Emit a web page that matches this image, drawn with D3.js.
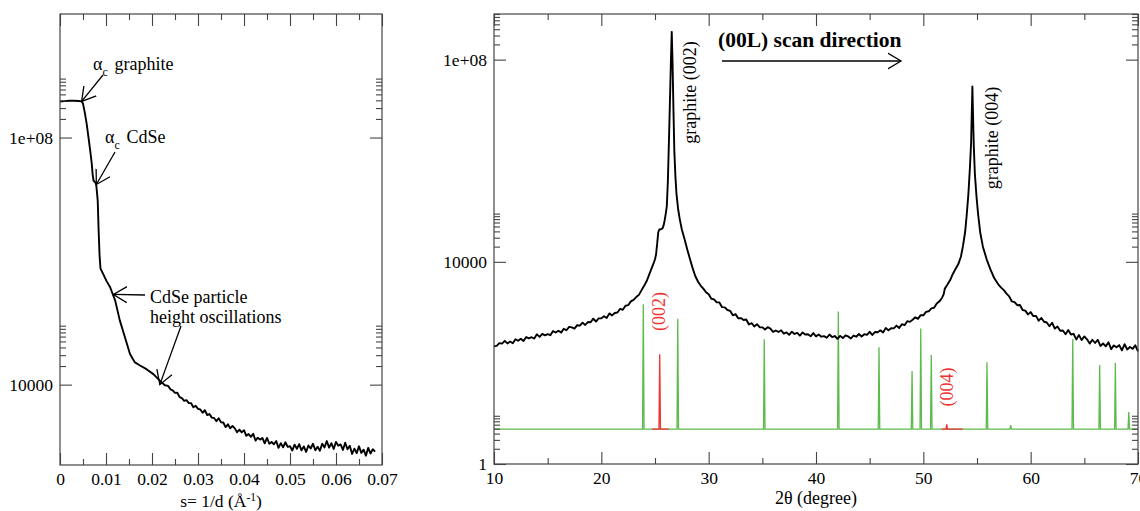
<!DOCTYPE html>
<html>
<head>
<meta charset="utf-8">
<script src="https://cdnjs.cloudflare.com/ajax/libs/d3/7.8.5/d3.min.js"></script>
<style>
  body { margin: 0; background: #fff; }
  svg { display: block; }
</style>
</head>
<body>
<div id="svg-container"></div>
<script>
// ---- data ----

// small-angle scan: [s = 1/d (1/Angstrom), log10 intensity]
var sasCurve = [
  [0.0000, 8.583], [0.0010, 8.590], [0.0020, 8.595], [0.0030, 8.596], [0.0040, 8.592],
  [0.0047, 8.585], [0.0050, 8.55], [0.0054, 8.40], [0.0058, 8.22], [0.0062, 8.00],
  [0.0066, 7.77], [0.0069, 7.58], [0.0071, 7.40], [0.0073, 7.30], [0.0076, 7.28],
  [0.0078, 7.255], [0.0079, 7.22], [0.0082, 6.98], [0.0084, 6.49], [0.0086, 6.09],
  [0.0088, 5.88], [0.0094, 5.79], [0.0101, 5.68], [0.0109, 5.576], [0.0120, 5.36],
  [0.0130, 5.04], [0.0141, 4.77], [0.0152, 4.50], [0.0158, 4.42], [0.0163, 4.36],
  [0.0174, 4.31], [0.0188, 4.25], [0.0203, 4.17], [0.0217, 4.065], [0.0228, 3.99],
  [0.0235, 3.980], [0.0240, 3.924], [0.0245, 3.906], [0.0250, 3.866], [0.0255, 3.868],
  [0.0260, 3.798], [0.0265, 3.782], [0.0270, 3.737], [0.0275, 3.748], [0.0280, 3.702],
  [0.0285, 3.700], [0.0290, 3.633], [0.0295, 3.659], [0.0300, 3.608], [0.0305, 3.597],
  [0.0310, 3.545], [0.0315, 3.585], [0.0320, 3.508], [0.0325, 3.524], [0.0330, 3.466],
  [0.0335, 3.460], [0.0340, 3.408], [0.0345, 3.456], [0.0350, 3.389], [0.0355, 3.387],
  [0.0360, 3.312], [0.0365, 3.358], [0.0370, 3.293], [0.0375, 3.332], [0.0380, 3.292],
  [0.0385, 3.230], [0.0390, 3.272], [0.0395, 3.227], [0.0400, 3.263], [0.0405, 3.172],
  [0.0410, 3.200], [0.0415, 3.155], [0.0420, 3.203], [0.0425, 3.095], [0.0430, 3.141],
  [0.0435, 3.110], [0.0440, 3.137], [0.0445, 3.049], [0.0450, 3.137], [0.0455, 3.043],
  [0.0460, 3.072], [0.0465, 3.035], [0.0470, 3.087], [0.0475, 2.977], [0.0480, 3.053],
  [0.0485, 2.985], [0.0490, 3.067], [0.0495, 2.993], [0.0500, 3.002], [0.0505, 2.935],
  [0.0510, 3.029], [0.0515, 2.961], [0.0520, 3.036], [0.0525, 2.937], [0.0530, 3.000],
  [0.0535, 2.910], [0.0540, 3.015], [0.0545, 2.966], [0.0550, 3.043], [0.0555, 2.938],
  [0.0560, 2.994], [0.0565, 2.929], [0.0570, 3.044], [0.0575, 2.984], [0.0580, 3.087],
  [0.0585, 2.980], [0.0590, 3.052], [0.0595, 2.958], [0.0600, 3.073], [0.0605, 3.012],
  [0.0610, 3.032], [0.0615, 2.942], [0.0620, 3.060], [0.0625, 2.953], [0.0630, 3.010],
  [0.0635, 2.878], [0.0640, 2.963], [0.0645, 2.892], [0.0650, 3.002], [0.0655, 2.896],
  [0.0660, 2.947], [0.0665, 2.851], [0.0670, 2.976], [0.0675, 2.885], [0.0680, 2.954],
  [0.0685, 2.914]
];

// (00L) scan: [2theta (degree), log10 counts]
var xrdCurve = [
  [10.00, 2.330], [10.25, 2.338], [10.50, 2.392], [10.75, 2.382], [11.00, 2.436],
  [11.25, 2.386], [11.50, 2.424], [11.75, 2.390], [12.00, 2.468], [12.25, 2.438],
  [12.50, 2.476], [12.75, 2.434], [13.00, 2.512], [13.25, 2.486], [13.50, 2.508],
  [13.75, 2.482], [14.00, 2.565], [14.25, 2.515], [14.50, 2.574], [14.75, 2.544],
  [15.00, 2.570], [15.25, 2.548], [15.50, 2.630], [15.75, 2.602], [16.00, 2.637],
  [16.25, 2.600], [16.50, 2.675], [16.75, 2.646], [17.00, 2.713], [17.25, 2.704],
  [17.50, 2.679], [17.75, 2.746], [18.00, 2.738], [18.25, 2.797], [18.50, 2.752],
  [18.75, 2.808], [19.00, 2.804], [19.25, 2.876], [19.50, 2.819], [19.75, 2.882],
  [20.00, 2.881], [20.25, 2.924], [20.50, 2.888], [20.75, 2.980], [21.00, 2.940],
  [21.25, 2.988], [21.50, 2.998], [21.75, 3.071], [22.00, 3.050], [22.25, 3.132],
  [22.50, 3.142], [22.75, 3.218], [23.00, 3.246], [23.25, 3.302], [23.50, 3.346],
  [23.75, 3.44], [24.00, 3.53], [24.25, 3.63], [24.50, 3.77], [24.70, 3.88],
  [24.90, 3.99], [25.00, 4.05], [25.10, 4.15], [25.20, 4.35], [25.30, 4.58],
  [25.40, 4.64], [25.55, 4.645], [25.70, 4.66], [25.80, 4.72], [25.90, 4.82],
  [26.00, 4.95], [26.10, 5.10], [26.20, 5.60], [26.30, 6.40], [26.40, 7.25],
  [26.48, 7.95], [26.56, 8.55], [26.64, 7.90], [26.72, 7.00], [26.80, 6.20],
  [26.90, 5.70], [27.00, 5.35], [27.15, 5.05], [27.30, 4.85], [27.50, 4.64],
  [27.75, 4.45], [28.00, 4.25], [28.25, 4.06], [28.50, 3.88], [28.75, 3.72],
  [29.00, 3.61], [29.25, 3.53], [29.50, 3.47], [29.75, 3.40], [30.00, 3.359],
  [30.25, 3.269], [30.50, 3.256], [30.75, 3.198], [31.00, 3.197], [31.25, 3.103],
  [31.50, 3.099], [31.75, 3.047], [32.00, 3.031], [32.25, 2.942], [32.50, 2.965],
  [32.75, 2.883], [33.00, 2.887], [33.25, 2.850], [33.50, 2.858], [33.75, 2.760],
  [34.00, 2.786], [34.25, 2.721], [34.50, 2.766], [34.75, 2.707], [35.00, 2.704],
  [35.25, 2.662], [35.50, 2.707], [35.75, 2.680], [36.00, 2.613], [36.25, 2.642],
  [36.50, 2.612], [36.75, 2.646], [37.00, 2.581], [37.25, 2.604], [37.50, 2.555],
  [37.75, 2.618], [38.00, 2.573], [38.25, 2.596], [38.50, 2.539], [38.75, 2.602],
  [39.00, 2.561], [39.25, 2.568], [39.50, 2.527], [39.75, 2.590], [40.00, 2.525],
  [40.25, 2.564], [40.50, 2.519], [40.75, 2.530], [41.00, 2.498], [41.25, 2.561],
  [41.50, 2.512], [41.75, 2.532], [42.00, 2.475], [42.25, 2.535], [42.50, 2.491],
  [42.75, 2.543], [43.00, 2.524], [43.25, 2.484], [43.50, 2.541], [43.75, 2.518],
  [44.00, 2.572], [44.25, 2.522], [44.50, 2.568], [44.75, 2.554], [45.00, 2.616],
  [45.25, 2.554], [45.50, 2.612], [45.75, 2.606], [46.00, 2.644], [46.25, 2.603],
  [46.50, 2.690], [46.75, 2.645], [47.00, 2.688], [47.25, 2.683], [47.50, 2.738],
  [47.75, 2.690], [48.00, 2.766], [48.25, 2.746], [48.50, 2.826], [48.75, 2.812],
  [49.00, 2.854], [49.25, 2.902], [49.50, 2.872], [49.75, 2.945], [50.00, 2.942],
  [50.25, 3.011], [50.50, 3.021], [50.75, 3.078], [51.00, 3.092], [51.25, 3.176],
  [51.50, 3.218], [51.75, 3.29], [51.90, 3.36], [52.00, 3.47], [52.10, 3.50],
  [52.25, 3.55], [52.50, 3.64], [52.75, 3.76], [53.00, 3.86], [53.25, 3.95],
  [53.50, 4.10], [53.70, 4.32], [53.90, 4.60], [54.05, 4.95], [54.20, 5.35],
  [54.35, 5.90], [54.45, 6.35], [54.52, 7.00], [54.57, 7.47], [54.62, 7.00],
  [54.70, 6.30], [54.80, 5.75], [54.95, 5.30], [55.10, 4.95], [55.30, 4.58],
  [55.55, 4.30], [55.90, 4.05], [56.25, 3.85], [56.60, 3.68], [56.90, 3.58],
  [57.00, 3.55], [57.25, 3.49], [57.50, 3.44], [57.75, 3.37], [58.00, 3.315],
  [58.25, 3.216], [58.50, 3.202], [58.75, 3.142], [59.00, 3.146], [59.25, 3.046],
  [59.50, 3.034], [59.75, 2.960], [60.00, 3.005], [60.25, 2.925], [60.50, 2.930],
  [60.75, 2.835], [61.00, 2.890], [61.25, 2.815], [61.50, 2.800], [61.75, 2.725],
  [62.00, 2.795], [62.25, 2.680], [62.50, 2.721], [62.75, 2.636], [63.00, 2.640],
  [63.25, 2.567], [63.50, 2.649], [63.75, 2.563], [64.00, 2.576], [64.25, 2.465],
  [64.50, 2.550], [64.75, 2.453], [65.00, 2.524], [65.25, 2.467], [65.50, 2.382],
  [65.75, 2.458], [66.00, 2.394], [66.25, 2.456], [66.50, 2.336], [66.75, 2.384],
  [67.00, 2.327], [67.25, 2.408], [67.50, 2.272], [67.75, 2.346], [68.00, 2.308],
  [68.25, 2.352], [68.50, 2.249], [68.75, 2.370], [69.00, 2.265], [69.25, 2.314],
  [69.50, 2.279], [69.75, 2.349], [70.00, 2.230]
];

// CdSe reference reflections (green) and the (00L) ones (red)
var refBase = 4.9;
var refPos = [23.91, 27.12, 35.18, 42.08, 45.87, 48.95, 49.76, 50.74, 55.93, 58.14, 63.92, 66.43, 67.89, 69.14];
var refInt = [1450, 750, 293, 1040, 204, 69, 478, 144, 103, 5.9, 298, 91, 100, 10.7];
var redPos = [25.44, 52.18];
var redInt = [148, 6.1];
var redFrom = [24.72, 51.71];
var redTo = [26.30, 53.67];
var redLabels = ["(002)", "(004)"];

// ticks
var leftXTicks = [0, 0.01, 0.02, 0.03, 0.04, 0.05, 0.06, 0.07];
var leftXLabels = ["0", "0.01", "0.02", "0.03", "0.04", "0.05", "0.06", "0.07"];
var leftXMinor = [0.005, 0.015, 0.025, 0.035, 0.045, 0.055, 0.065];
var leftYTicks = [1e4, 1e8];
var leftYLabels = ["10000", "1e+08"];
var leftYMinor = [2e4, 3e4, 4e4, 5e4, 6e4, 7e4, 8e4, 9e4, 2e8, 3e8, 4e8, 5e8, 6e8, 7e8, 8e8, 9e8];

var rightXTicks = [10, 20, 30, 40, 50, 60, 70];
var rightXLabels = ["10", "20", "30", "40", "50", "60", "70"];
var rightXMinor = [15, 25, 35, 45, 55, 65];
var rightYTicks = [1, 1e4, 1e8];
var rightYLabels = ["1", "10000", "1e+08"];
var rightYMinor = [2, 3, 4, 5, 6, 7, 8, 9, 2e4, 3e4, 4e4, 5e4, 6e4, 7e4, 8e4, 9e4, 2e8, 3e8, 4e8, 5e8, 6e8, 7e8, 8e8];

// ---- layout ----
var width = 1140, height = 511;
var fontSize = 17.5;
var annSize = 18;
var serif = "'Liberation Serif', 'Times New Roman', Times, 'DejaVu Serif', serif";
var frameColor = "#444";

var leftBox = { x0: 60, x1: 382, y0: 14, y1: 465 };
var rightBox = { x0: 494, x1: 1138, y0: 14, y1: 464 };

var svg = d3.select("#svg-container")
            .append("svg")
            .attr("width", width)
            .attr("height", height)
            .style("font-family", serif);

svg.append("rect").attr("width", width).attr("height", height).attr("fill", "#fff");

var defs = svg.append("defs");
defs.append("marker")
    .attr("id", "arrowhead")
    .attr("viewBox", "0 -9 15 18")
    .attr("refX", 13.5)
    .attr("refY", 0)
    .attr("markerWidth", 15)
    .attr("markerHeight", 18)
    .attr("markerUnits", "userSpaceOnUse")
    .attr("orient", "auto")
  .append("path")
    .attr("d", "M0,-8L13.5,0L0,8")
    .attr("fill", "none")
    .attr("stroke", "#000")
    .attr("stroke-width", 1.3);

var xL = d3.scaleLinear().domain([0, 0.07]).range([leftBox.x0, leftBox.x1]);
var yL = d3.scaleLog().domain([500, 1e10]).range([leftBox.y1, leftBox.y0]);
var xR = d3.scaleLinear().domain([10, 70]).range([rightBox.x0, rightBox.x1]);
var yR = d3.scaleLog().domain([1, 8e8]).range([rightBox.y1, rightBox.y0]);

function styleAxis(g) {
  g.attr("font-family", null);
  g.select(".domain").remove();
  g.selectAll(".tick line").attr("stroke", frameColor).attr("stroke-width", 1.1);
  g.selectAll("text")
    .style("font-family", serif)
    .attr("font-size", fontSize)
    .attr("fill", "#000");
}

function drawAxes(x, y, box, t) {
  var g = svg.append("g").attr("class", "axes");

  // bottom
  g.append("g")
    .attr("transform", "translate(0," + box.y1 + ")")
    .call(d3.axisBottom(x).tickValues(t.xMajor).tickSizeInner(-12).tickSizeOuter(0).tickPadding(8)
            .tickFormat(function(d, i) { return t.xLabels[i]; }))
    .call(styleAxis);
  g.append("g")
    .attr("transform", "translate(0," + box.y1 + ")")
    .call(d3.axisBottom(x).tickValues(t.xMinor).tickSizeInner(-6).tickSizeOuter(0).tickFormat(""))
    .call(styleAxis);
  // top
  g.append("g")
    .attr("transform", "translate(0," + box.y0 + ")")
    .call(d3.axisTop(x).tickValues(t.xMajor).tickSizeInner(-12).tickSizeOuter(0).tickFormat(""))
    .call(styleAxis);
  g.append("g")
    .attr("transform", "translate(0," + box.y0 + ")")
    .call(d3.axisTop(x).tickValues(t.xMinor).tickSizeInner(-6).tickSizeOuter(0).tickFormat(""))
    .call(styleAxis);
  // left
  g.append("g")
    .attr("transform", "translate(" + box.x0 + ",0)")
    .call(d3.axisLeft(y).tickValues(t.yMajor).tickSizeInner(-12).tickSizeOuter(0).tickPadding(7)
            .tickFormat(function(d, i) { return t.yLabels[i]; }))
    .call(styleAxis);
  g.append("g")
    .attr("transform", "translate(" + box.x0 + ",0)")
    .call(d3.axisLeft(y).tickValues(t.yMinor).tickSizeInner(-6).tickSizeOuter(0).tickFormat(""))
    .call(styleAxis);
  // right
  g.append("g")
    .attr("transform", "translate(" + box.x1 + ",0)")
    .call(d3.axisRight(y).tickValues(t.yMajor).tickSizeInner(-12).tickSizeOuter(0).tickFormat(""))
    .call(styleAxis);
  g.append("g")
    .attr("transform", "translate(" + box.x1 + ",0)")
    .call(d3.axisRight(y).tickValues(t.yMinor).tickSizeInner(-6).tickSizeOuter(0).tickFormat(""))
    .call(styleAxis);

  g.append("rect")
    .attr("x", box.x0).attr("y", box.y0)
    .attr("width", box.x1 - box.x0).attr("height", box.y1 - box.y0)
    .attr("fill", "none").attr("stroke", frameColor).attr("stroke-width", 1.2);
}

// ---- left panel ----
var sasLine = d3.line()
                .x(function(d) { return xL(d[0]); })
                .y(function(d) { return yL(Math.pow(10, d[1])); });

svg.append("path")
   .datum(sasCurve)
   .attr("fill", "none")
   .attr("stroke", "#000")
   .attr("stroke-width", 1.9)
   .attr("stroke-linejoin", "round")
   .attr("d", sasLine);

drawAxes(xL, yL, leftBox, {
  xMajor: leftXTicks, xLabels: leftXLabels, xMinor: leftXMinor,
  yMajor: leftYTicks, yLabels: leftYLabels, yMinor: leftYMinor
});

svg.append("text")
   .attr("x", (leftBox.x0 + leftBox.x1) / 2)
   .attr("y", 507)
   .attr("text-anchor", "middle")
   .attr("font-size", 17.5)
   .call(function(t) {
     t.append("tspan").text("s= 1/d (\u00C5");
     t.append("tspan").attr("dy", -6).attr("font-size", 11.5).text("-1");
     t.append("tspan").attr("dy", 6).text(")");
   });

// annotations, left
var annL = svg.append("g").attr("class", "annotations").attr("font-size", annSize);

function alphaC(g, x, y, word) {
  g.append("text").attr("x", x).attr("y", y).text("\u03B1");
  g.append("text").attr("x", x + 9.5).attr("y", y + 6).attr("font-size", 12).text("c");
  g.append("text").attr("x", x + 21.5).attr("y", y).text(word);
}

function arrow(g, x1, y1, x2, y2) {
  g.append("line")
    .attr("x1", x1).attr("y1", y1).attr("x2", x2).attr("y2", y2)
    .attr("stroke", "#000").attr("stroke-width", 1.3)
    .attr("marker-end", "url(#arrowhead)");
}

alphaC(annL, 93, 70, "graphite");
arrow(annL, 103, 75, xL(0.0047), yL(Math.pow(10, 8.585)));
alphaC(annL, 105, 143, "CdSe");
arrow(annL, 115, 152, xL(0.0079), yL(Math.pow(10, 7.24)));
annL.append("text").attr("x", 150).attr("y", 303).text("CdSe particle");
annL.append("text").attr("x", 150).attr("y", 323).text("height oscillations");
arrow(annL, 145, 295, xL(0.0116), yL(Math.pow(10, 5.46)));
arrow(annL, 181, 326, xL(0.0217), yL(Math.pow(10, 4.0)));

// ---- right panel ----
var xrdLine = d3.line()
                .x(function(d) { return xR(d[0]); })
                .y(function(d) { return yR(Math.pow(10, d[1])); });

var spikeHalf = 0.07;

var refPts = [[10, refBase]];
refPos.forEach(function(p, i) {
  refPts.push([p - spikeHalf, refBase], [p, refInt[i]], [p + spikeHalf, refBase]);
});
refPts.push([70, refBase]);

var refLine = d3.line()
                .x(function(d) { return xR(d[0]); })
                .y(function(d) { return yR(d[1]); });

svg.append("path")
   .datum(refPts)
   .attr("fill", "none")
   .attr("stroke", "#5dbb4d")
   .attr("stroke-width", 1.3)
   .attr("d", refLine);

redPos.forEach(function(p, i) {
  var pts = [[redFrom[i], refBase], [p - spikeHalf, refBase], [p, redInt[i]], [p + spikeHalf, refBase], [redTo[i], refBase]];
  svg.append("path")
     .datum(pts)
     .attr("fill", "none")
     .attr("stroke", "#f03232")
     .attr("stroke-width", 1.3)
     .attr("d", refLine);
});

svg.append("path")
   .datum(xrdCurve)
   .attr("fill", "none")
   .attr("stroke", "#000")
   .attr("stroke-width", 1.9)
   .attr("stroke-linejoin", "round")
   .attr("d", xrdLine);

drawAxes(xR, yR, rightBox, {
  xMajor: rightXTicks, xLabels: rightXLabels, xMinor: rightXMinor,
  yMajor: rightYTicks, yLabels: rightYLabels, yMinor: rightYMinor
});

svg.append("text")
   .attr("x", (rightBox.x0 + rightBox.x1) / 2)
   .attr("y", 504)
   .attr("text-anchor", "middle")
   .attr("font-size", 18)
   .text("2\u03B8 (degree)");

// annotations, right
var annR = svg.append("g").attr("class", "annotations").attr("font-size", annSize);

function vlabel(g, cx, cy, txt, color) {
  g.append("text")
    .attr("transform", "translate(" + cx + "," + cy + ") rotate(-90)")
    .attr("text-anchor", "middle")
    .attr("dy", "0.35em")
    .attr("fill", color)
    .text(txt);
}

vlabel(annR, 690, 92.5, "graphite (002)", "#000");
vlabel(annR, 991.5, 138, "graphite (004)", "#000");
vlabel(annR, xR(redPos[0]) - 1, 311.5, redLabels[0], "#f03232");
vlabel(annR, xR(redPos[1]), 387, redLabels[1], "#f03232");

annR.append("text")
    .attr("x", 718)
    .attr("y", 47)
    .attr("font-size", 21.5)
    .attr("font-weight", "bold")
    .text("(00L) scan direction");
arrow(annR, 722, 61, 901, 61);

svg.selectAll("text").style("font-family", serif);
</script>
</body>
</html>
